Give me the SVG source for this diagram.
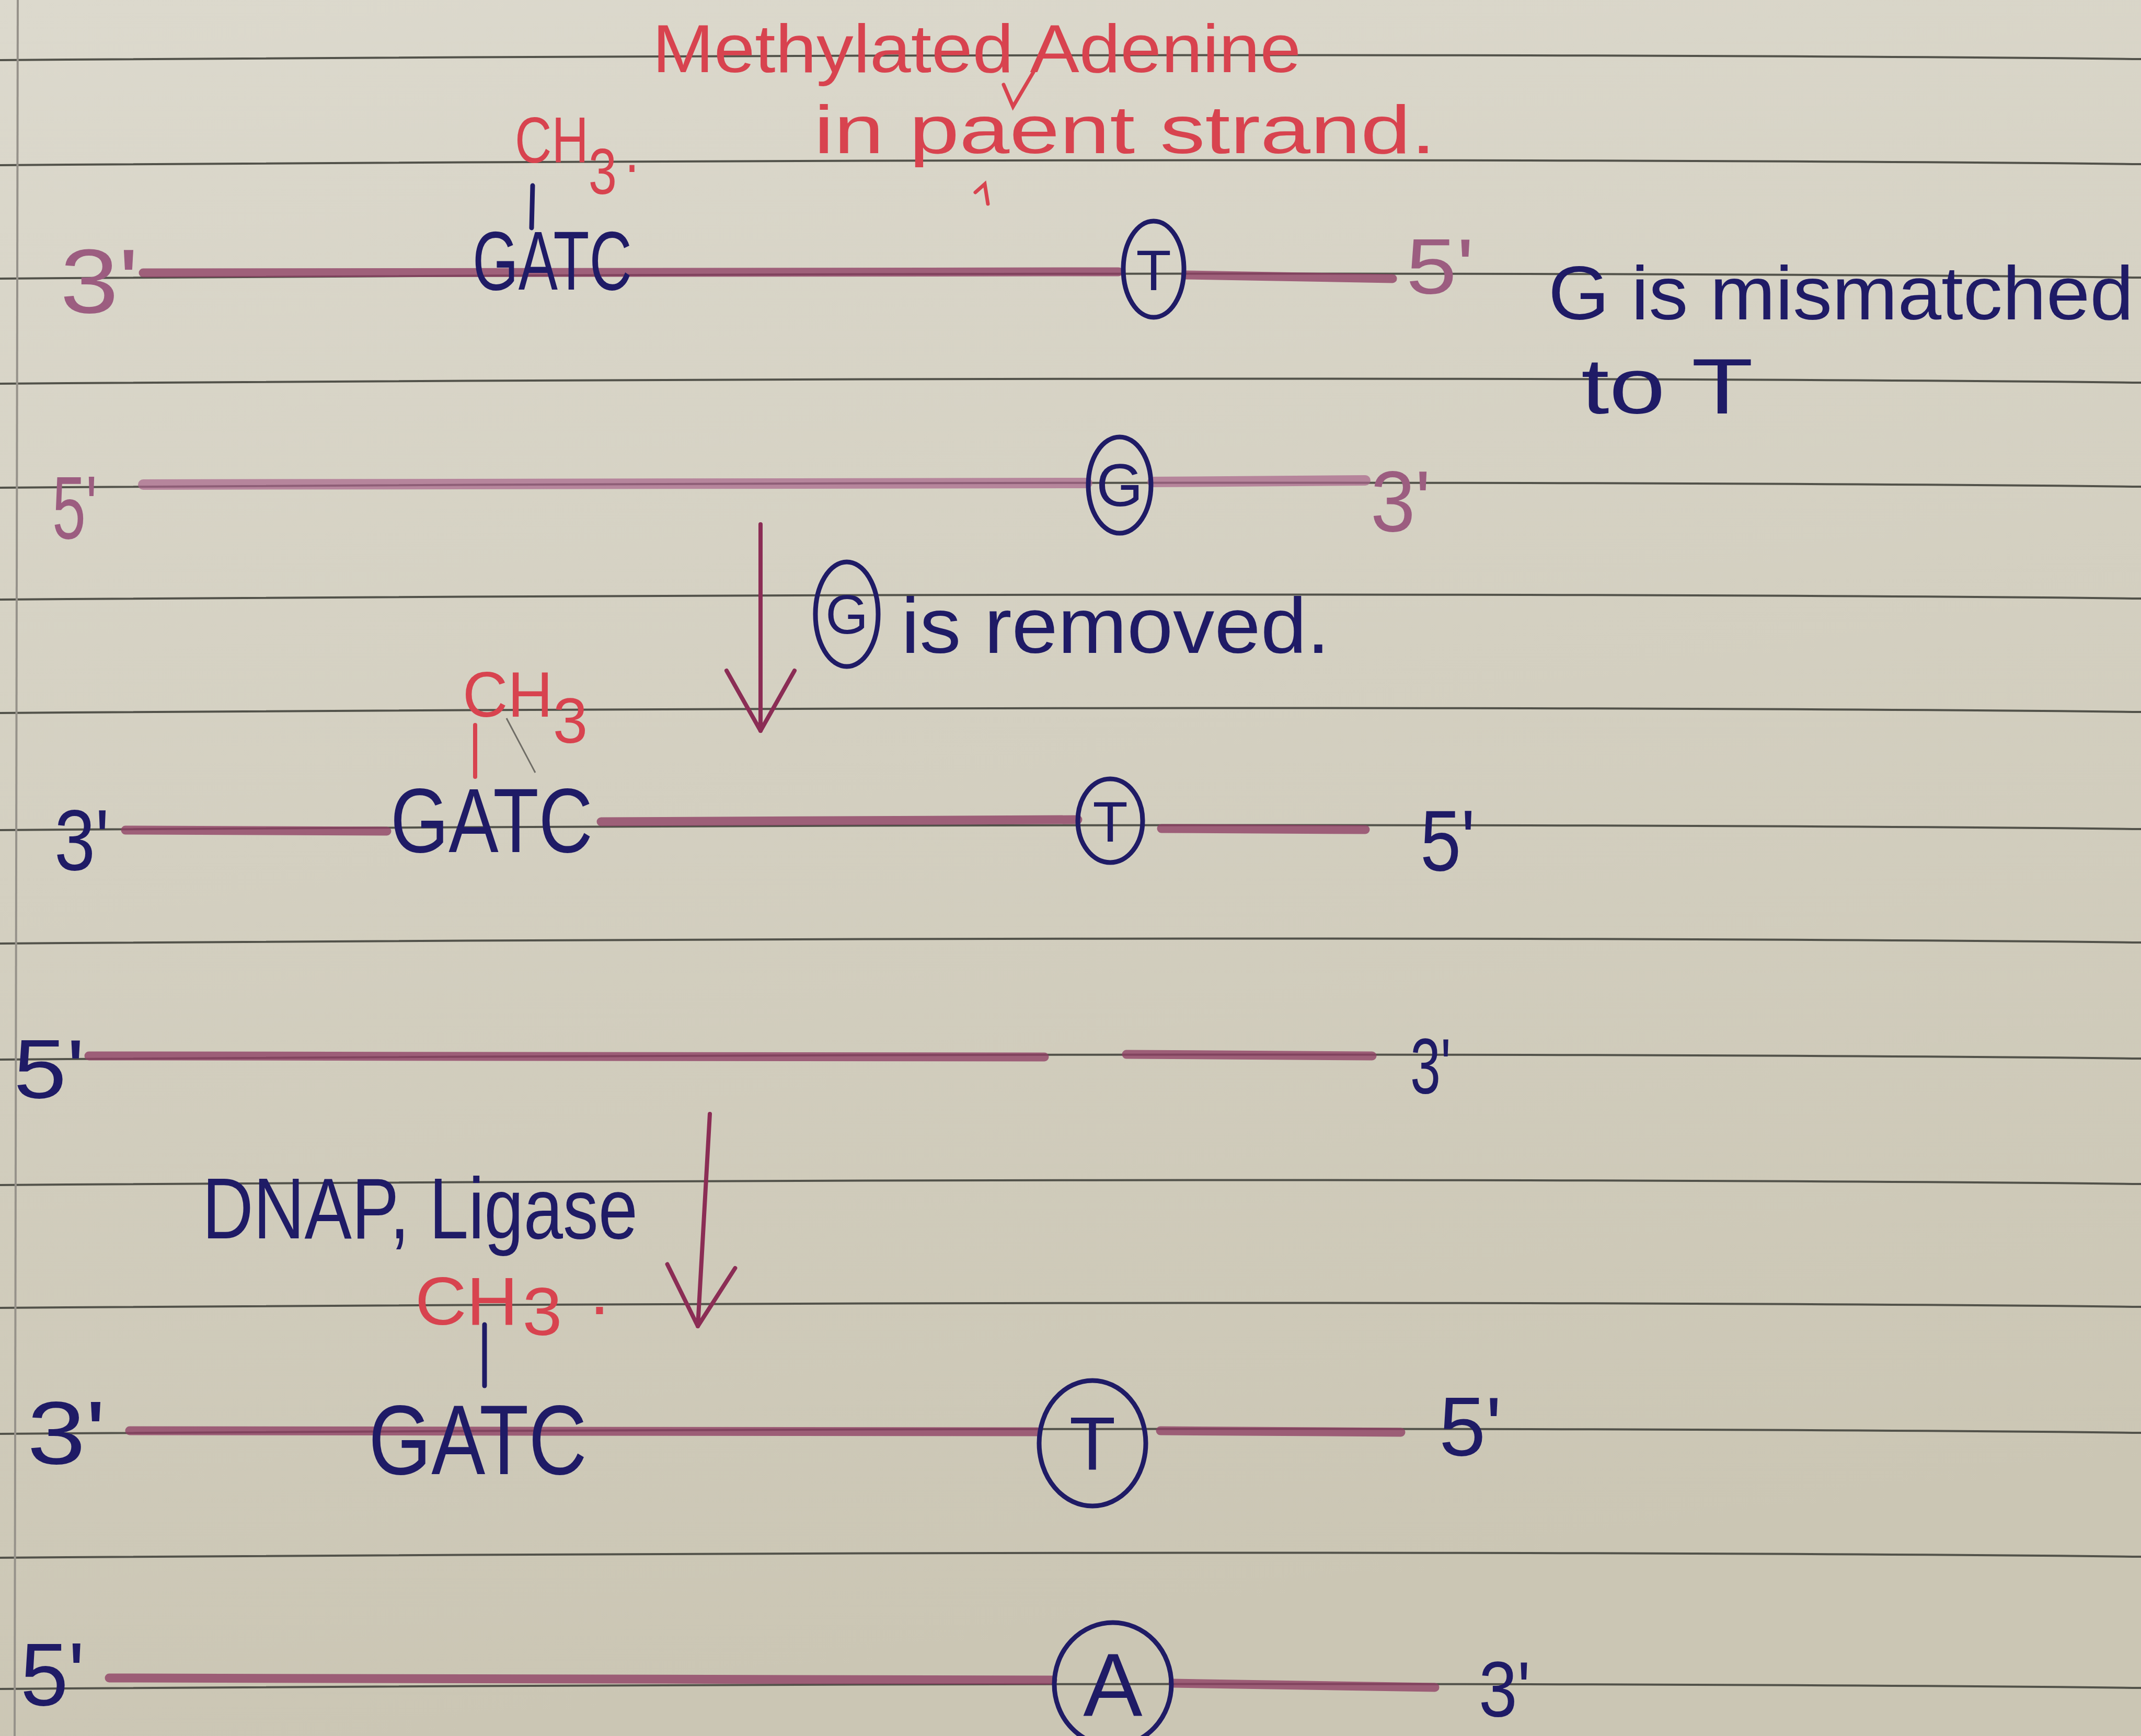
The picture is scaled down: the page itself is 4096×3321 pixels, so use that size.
<svg xmlns="http://www.w3.org/2000/svg" width="4096" height="3321" viewBox="0 0 4096 3321">
<defs>
<linearGradient id="paper" x1="0" y1="0" x2="0.2" y2="1">
<stop offset="0" stop-color="#dcd9cd"/>
<stop offset="1" stop-color="#cbc6b4"/>
</linearGradient>
<marker id="vhead" viewBox="-140 -80 150 160" refX="0" refY="0" markerWidth="150" markerHeight="160" markerUnits="userSpaceOnUse" orient="auto">
<path d="M-115,-65 L0,0 L-115,65" fill="none" stroke="#8b2d55" stroke-width="8" stroke-linecap="round" stroke-linejoin="round"/>
</marker>
<style>
.rule{fill:none;stroke:#52524a;stroke-width:4}
.strand{fill:none;stroke:#8e3f64;stroke-width:17;stroke-linecap:round;opacity:0.78}
.strandL{fill:none;stroke:#a8648a;stroke-width:20;stroke-linecap:round;opacity:0.7}
.ink{font-family:"Liberation Sans","DejaVu Sans",Arial,sans-serif;fill:#1f1b66}
.red{font-family:"Liberation Sans","DejaVu Sans",Arial,sans-serif;fill:#d8434f}
.pink{font-family:"Liberation Sans","DejaVu Sans",Arial,sans-serif;fill:#9c5d80}
.ring{fill:none;stroke:#1f1b66;stroke-width:9}
.arrow{fill:none;stroke:#8b2d55;stroke-width:8;stroke-linecap:round}
.tick{fill:none;stroke:#1f1b66;stroke-width:9;stroke-linecap:round}
.rtick{fill:none;stroke:#d8434f;stroke-width:8;stroke-linecap:round}
</style>
</defs>
<rect x="0" y="0" width="4096" height="3321" fill="url(#paper)"/>
<g id="paper-rules">
<path class="rule" d="M0,115 Q2600,97 4096,113"/>
<path class="rule" d="M0,316 Q2600,298 4096,314"/>
<path class="rule" d="M0,533 Q2600,515 4096,531"/>
<path class="rule" d="M0,734 Q2600,716 4096,732"/>
<path class="rule" d="M0,933 Q2600,915 4096,931"/>
<path class="rule" d="M0,1147 Q2600,1129 4096,1145"/>
<path class="rule" d="M0,1364 Q2600,1346 4096,1362"/>
<path class="rule" d="M0,1588 Q2600,1570 4096,1586"/>
<path class="rule" d="M0,1805 Q2600,1787 4096,1803"/>
<path class="rule" d="M0,2027 Q2600,2009 4096,2025"/>
<path class="rule" d="M0,2267 Q2600,2249 4096,2265"/>
<path class="rule" d="M0,2502 Q2600,2484 4096,2500"/>
<path class="rule" d="M0,2743 Q2600,2725 4096,2741"/>
<path class="rule" d="M0,2980 Q2600,2962 4096,2978"/>
<path class="rule" d="M0,3231 Q2600,3213 4096,3229"/>
<path d="M34,0 L28,3321" fill="none" stroke="#96928a" stroke-width="4"/>
</g>
<g id="title">
<text class="red" x="1248" y="138" font-size="130" textLength="1241" lengthAdjust="spacingAndGlyphs">Methylated Adenine</text>
<text class="red" x="1557" y="293" font-size="130" textLength="1190" lengthAdjust="spacingAndGlyphs">in paent strand.</text>
<path d="M1920,162 L1938,204 L1977,138" fill="none" stroke="#d8434f" stroke-width="7" stroke-linecap="round"/>
<path d="M1866,368 L1884,352 L1890,390" fill="none" stroke="#d8434f" stroke-width="7" stroke-linecap="round"/>
</g>
<g id="ch3-top">
<text class="red" font-size="125" transform="translate(985,311) scale(0.78,1)">CH<tspan dy="60">3</tspan><tspan dx="20" dy="-42">.</tspan></text>
</g>
<g id="row1-parent">
<path class="strand" d="M274,522 L2140,520"/>
<path class="strand" d="M2268,526 L2664,533"/>
<text class="pink" x="115" y="598" font-size="175" textLength="150" lengthAdjust="spacingAndGlyphs">3'</text>
<text class="ink" x="904" y="554" font-size="160" textLength="305" lengthAdjust="spacingAndGlyphs">GATC</text>
<ellipse class="ring" cx="2207" cy="515" rx="58" ry="92"/>
<text class="ink" x="2207" y="555" font-size="110" text-anchor="middle">T</text>
<text class="pink" x="2690" y="562" font-size="150" textLength="130" lengthAdjust="spacingAndGlyphs">5'</text>
</g>
<g id="note-mismatch">
<text class="ink" x="2962" y="611" font-size="145" textLength="1120" lengthAdjust="spacingAndGlyphs">G is mismatched</text>
<text class="ink" x="3025" y="791" font-size="150" textLength="329" lengthAdjust="spacingAndGlyphs">to T</text>
</g>
<g id="row2-daughter">
<path class="strandL" d="M274,927 L2080,924"/>
<path class="strandL" d="M2205,922 L2612,919"/>
<text class="pink" x="100" y="1030" font-size="170" textLength="86" lengthAdjust="spacingAndGlyphs">5'</text>
<ellipse class="ring" cx="2142" cy="928" rx="60" ry="92"/>
<text class="ink" x="2142" y="968" font-size="115" text-anchor="middle">G</text>
<text class="pink" x="2622" y="1016" font-size="165" textLength="115" lengthAdjust="spacingAndGlyphs">3'</text>
</g>
<g id="note-removed">
<ellipse class="ring" cx="1620" cy="1175" rx="60" ry="100"/>
<text class="ink" x="1620" y="1212" font-size="105" text-anchor="middle">G</text>
<text class="ink" x="1724" y="1249" font-size="150" textLength="820" lengthAdjust="spacingAndGlyphs">is removed.</text>
</g>
<g id="ch3-mid">
<text class="red" font-size="122" transform="translate(885,1371) scale(0.98,1)">CH<tspan dy="50">3</tspan></text>
</g>
<g id="row3-parent">
<path class="strand" d="M240,1588 L740,1590"/>
<path class="strand" d="M1150,1572 L2062,1568"/>
<path class="strand" d="M2222,1585 L2612,1587"/>
<text class="ink" x="104" y="1664" font-size="165" textLength="105" lengthAdjust="spacingAndGlyphs">3'</text>
<text class="ink" x="747" y="1630" font-size="175" textLength="387" lengthAdjust="spacingAndGlyphs">GATC</text>
<ellipse class="ring" cx="2124" cy="1570" rx="62" ry="80"/>
<text class="ink" x="2124" y="1610" font-size="110" text-anchor="middle">T</text>
<text class="ink" x="2717" y="1665" font-size="165" textLength="105" lengthAdjust="spacingAndGlyphs">5'</text>
</g>
<g id="row4-daughter-gap">
<path class="strand" d="M170,2020 L1998,2022"/>
<path class="strand" d="M2155,2017 L2625,2020"/>
<text class="ink" x="26" y="2100" font-size="160" textLength="136" lengthAdjust="spacingAndGlyphs">5'</text>
<text class="ink" x="2698" y="2092" font-size="150" textLength="78" lengthAdjust="spacingAndGlyphs">3'</text>
</g>
<g id="note-enzymes">
<text class="ink" x="387" y="2369" font-size="165" textLength="833" lengthAdjust="spacingAndGlyphs">DNAP, Ligase</text>
</g>
<g id="ch3-bottom">
<text class="red" font-size="130" transform="translate(794,2534) scale(1.05,1)">CH<tspan dx="8" dy="20">3</tspan><tspan dx="50" dy="-40">.</tspan></text>
</g>
<g id="row5-parent">
<path class="strand" d="M248,2737 L1985,2739"/>
<path class="strand" d="M2220,2737 L2680,2740"/>
<text class="ink" x="52" y="2800" font-size="170" textLength="150" lengthAdjust="spacingAndGlyphs">3'</text>
<text class="ink" x="705" y="2820" font-size="190" textLength="418" lengthAdjust="spacingAndGlyphs">GATC</text>
<ellipse class="ring" cx="2090" cy="2761" rx="102" ry="120"/>
<text class="ink" x="2090" y="2812" font-size="145" text-anchor="middle">T</text>
<text class="ink" x="2753" y="2784" font-size="160" textLength="120" lengthAdjust="spacingAndGlyphs">5'</text>
</g>
<g id="row6-repaired">
<path class="strand" d="M209,3210 L2014,3214"/>
<path class="strand" d="M2244,3220 L2745,3228"/>
<text class="ink" x="39" y="3262" font-size="170" textLength="123" lengthAdjust="spacingAndGlyphs">5'</text>
<ellipse class="ring" cx="2129" cy="3222" rx="112" ry="118"/>
<text class="ink" x="2129" y="3282" font-size="170" text-anchor="middle">A</text>
<text class="ink" x="2829" y="3284" font-size="150" textLength="99" lengthAdjust="spacingAndGlyphs">3'</text>
</g>
<g id="connectors">
<path class="arrow" d="M1455,1003 L1455,1398" marker-end="url(#vhead)"/>
<path class="arrow" d="M1358,2131 L1335,2537" marker-end="url(#vhead)"/>
<path class="tick" d="M1019,355 L1017,436"/>
<path class="rtick" d="M909,1387 L909,1486"/>
<path d="M969,1374 L1024,1478" fill="none" stroke="#6f6d66" stroke-width="3"/>
<path class="tick" d="M927,2534 L927,2651"/>
</g>
</svg>
